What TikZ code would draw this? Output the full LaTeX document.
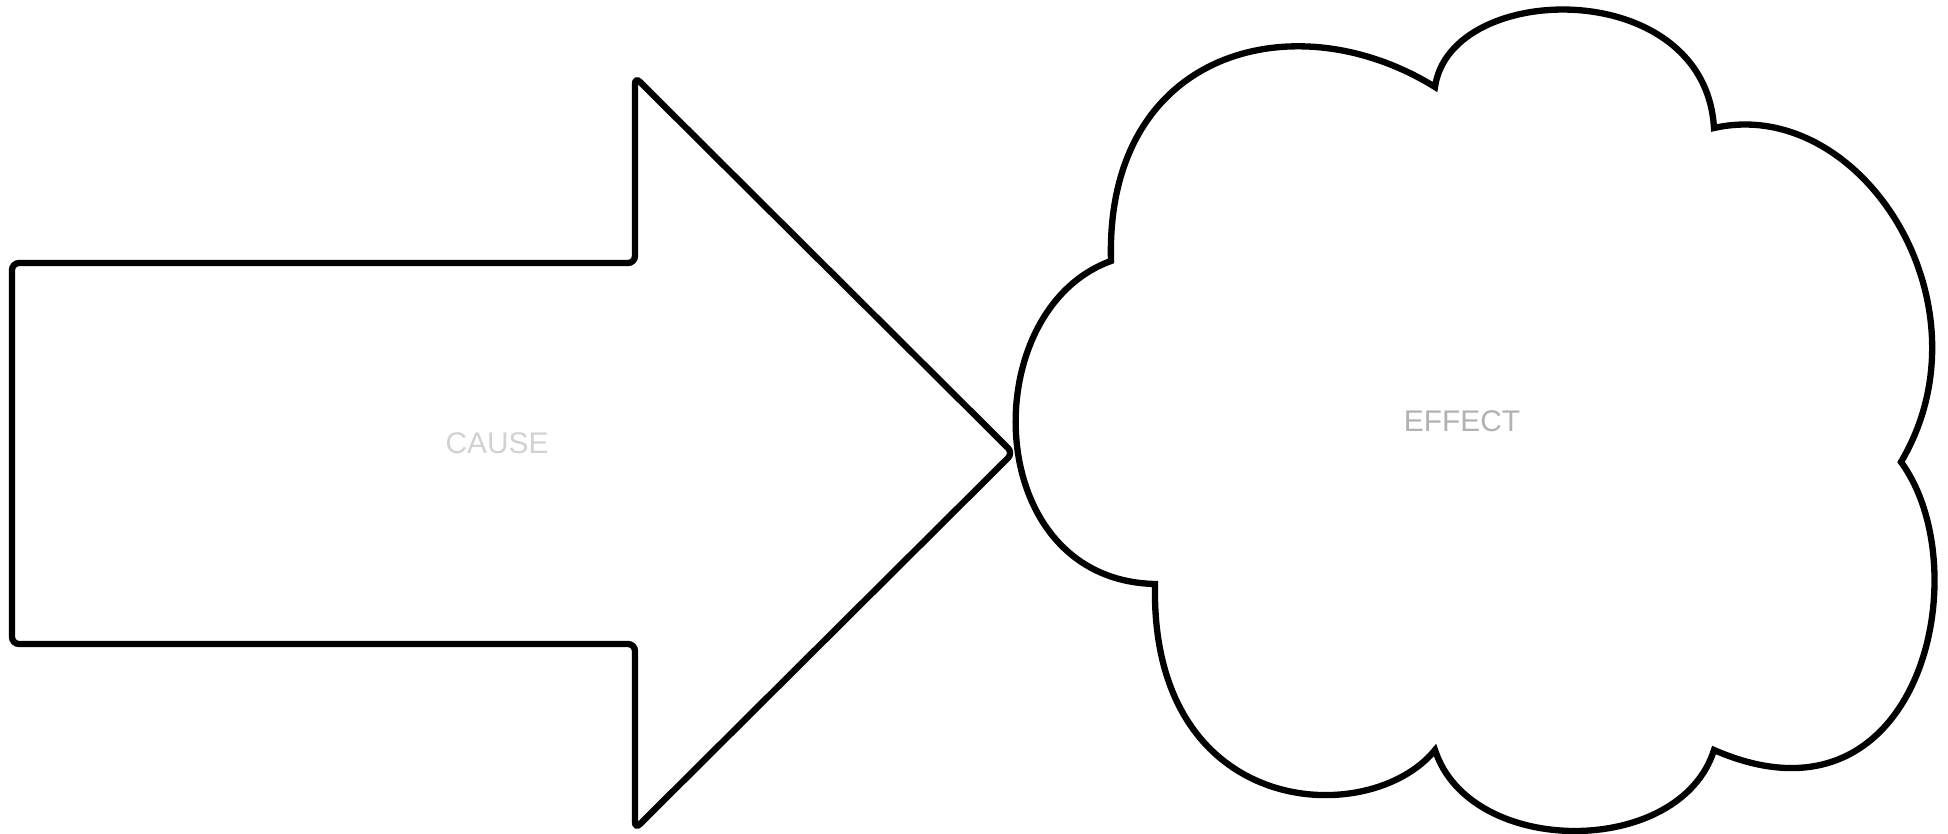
\documentclass[tikz,border=0pt]{standalone}
\usepackage{fontspec}
\setmainfont{Liberation Sans}
\usepackage{tikz}
\definecolor{causeGray}{RGB}{210, 210, 210}
\definecolor{effectGray}{RGB}{178, 178, 178}

\begin{document}
\begin{tikzpicture}[line width=1.8pt,
    label/.style={font=\fontsize{8.5}{10}\selectfont, inner sep=0pt}]
  \useasboundingbox (0,0) rectangle (19.48,8.33);
  % block arrow
  \draw[rounded corners=2pt, fill=white] (0.12,5.70) -- (6.35,5.70) -- (6.35,7.56)
    -- (10.13,3.80) -- (6.35,0.04) -- (6.35,1.89) -- (0.12,1.89) -- cycle;
  % cloud, lobe by lobe
  \draw[fill=white] (11.11,5.72)
    .. controls (11.05,7.83) and (12.95,8.33) .. (14.35,7.46)
    .. controls (14.50,8.53) and (17.05,8.58) .. (17.14,7.05)
    .. controls (18.60,7.38) and (19.95,5.30) .. (19.01,3.71)
    .. controls (19.80,2.63) and (19.20,-0.07) .. (17.14,0.83)
    .. controls (16.80,-0.25) and (14.70,-0.25) .. (14.35,0.83)
    .. controls (13.70,0.03) and (11.50,0.13) .. (11.55,2.49)
    .. controls (9.80,2.53) and (9.75,5.23) .. cycle;
  \node[label, text=causeGray] (cause) at (4.97,3.90) {CAUSE};
  \node[label, text=effectGray] (effect) at (14.62,4.12) {EFFECT};
\end{tikzpicture}
\end{document}
